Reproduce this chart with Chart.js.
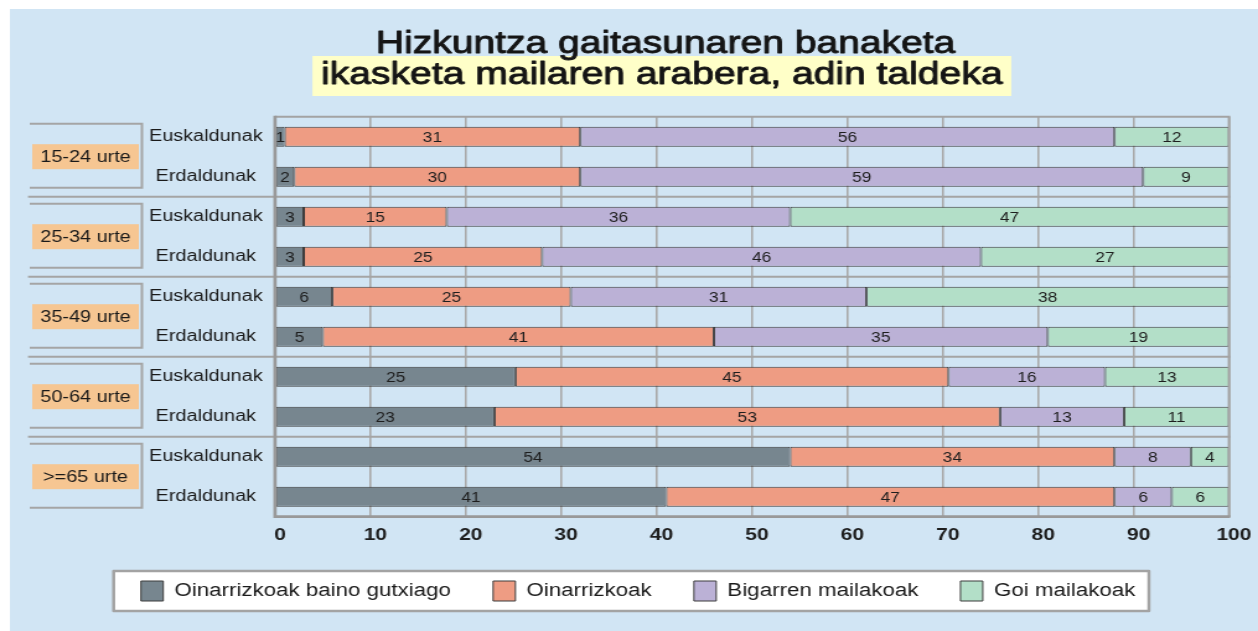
<!DOCTYPE html>
<html>
<head>
<meta charset="utf-8">
<script src="https://cdn.jsdelivr.net/npm/chart.js@4.4.0/dist/chart.umd.min.js"></script>
<style>
  html, body { margin: 0; padding: 0; background: #fff; }
  canvas { display: block; }
</style>
</head>
<body>
<!-- the original picture is stretched sideways, so the canvas is drawn narrower and scaled by CSS -->
<canvas id="chart" width="1015" height="631" style="width:1258px;height:631px"></canvas>
<script>
const titleLines = ['Hizkuntza gaitasunaren banaketa', 'ikasketa mailaren arabera, adin taldeka'];
const groups = ['15-24 urte', '25-34 urte', '35-49 urte', '50-64 urte', '>=65 urte'];
const categories = ['Euskaldunak', 'Erdaldunak', 'Euskaldunak', 'Erdaldunak', 'Euskaldunak',
                    'Erdaldunak', 'Euskaldunak', 'Erdaldunak', 'Euskaldunak', 'Erdaldunak'];
const seriesNames = ['Oinarrizkoak baino gutxiago', 'Oinarrizkoak', 'Bigarren mailakoak', 'Goi mailakoak'];

// percentages, one per row (top to bottom); labels show the rounded value
const belowBasic = [1, 2, 3, 3, 6, 5, 25.2, 23, 54, 41];
const basic      = [31, 30, 15, 25, 25, 41, 45.4, 53, 34, 47];
const secondary  = [56, 59, 36, 46, 31, 35, 16.4, 13, 8, 6];
const higher     = [12, 9, 47, 27, 38, 19, 13.4, 11, 4, 6];

const colors = ['#77868f', '#ee9c83', '#bbb1d6', '#b3dfc8'];

Chart.defaults.font.family = '"Liberation Sans", Arial, sans-serif';
Chart.defaults.color = '#1a1a1a';

// background, title and legend frame
const decor = {
  id: 'decor',
  beforeDraw(chart) {
    const { ctx, width, height } = chart;
    ctx.save();
    ctx.fillStyle = '#ffffff';
    ctx.fillRect(0, 0, width, height);
    ctx.fillStyle = '#d1e5f4';
    ctx.fillRect(8, 9, width - 8, height - 9);

    ctx.font = '31.5px "Liberation Sans", Arial, sans-serif';
    ctx.textAlign = 'center';
    ctx.textBaseline = 'alphabetic';
    const w2 = ctx.measureText(titleLines[1]).width;
    ctx.fillStyle = '#ffffc8';
    ctx.fillRect(534 - w2 / 2 - 7, 56, w2 + 14, 40);
    ctx.fillStyle = '#151515';
    ctx.strokeStyle = '#151515';
    ctx.lineWidth = 0.9;
    ctx.lineJoin = 'round';
    ctx.fillText(titleLines[0], 537, 53);
    ctx.strokeText(titleLines[0], 537, 53);
    ctx.fillText(titleLines[1], 534, 84);
    ctx.strokeText(titleLines[1], 534, 84);

    const boxes = chart.legend.legendHitBoxes;
    if (boxes && boxes.length) {
      const first = boxes[0], last = boxes[boxes.length - 1];
      const mid = first.top + first.height / 2;
      const l = first.left - 22, r = last.left + last.width + 11;
      ctx.fillStyle = '#ffffff';
      ctx.fillRect(l, mid - 20, r - l, 40);
      ctx.strokeStyle = '#a3a3a3';
      ctx.lineWidth = 2.5;
      ctx.strokeRect(l, mid - 20, r - l, 40);
    }
    ctx.restore();
  },
  beforeDatasetsDraw(chart) {
    const { ctx, chartArea: a, scales: { y } } = chart;
    const step = y.getPixelForValue(1) - y.getPixelForValue(0);
    ctx.save();
    ctx.strokeStyle = '#a5a5a5';
    ctx.lineWidth = 2;
    groups.forEach((g, i) => {
      const top = y.getPixelForValue(2 * i) - step / 2;
      const bottom = top + 2 * step;
      const mid = top + step;
      if (i > 0) {
        ctx.beginPath();
        ctx.moveTo(22.6, top);
        ctx.lineTo(a.right + 1, top);
        ctx.stroke();
      }
      ctx.beginPath();
      ctx.moveTo(24, top + 7);
      ctx.lineTo(114.5, top + 7);
      ctx.lineTo(114.5, bottom - 9);
      ctx.lineTo(24, bottom - 9);
      ctx.stroke();
      ctx.fillStyle = '#f6c692';
      ctx.fillRect(26, mid - 12.5, 86, 25);
      ctx.fillStyle = '#1a1a1a';
      ctx.font = '16px "Liberation Sans", Arial, sans-serif';
      ctx.textAlign = 'center';
      ctx.textBaseline = 'middle';
      ctx.fillText(g, 69, mid + 1);
    });
    ctx.restore();
  },
  afterDatasetsDraw(chart) {
    const { ctx, chartArea: a } = chart;
    ctx.save();
    // value labels
    ctx.font = '14px "Liberation Sans", Arial, sans-serif';
    ctx.fillStyle = '#1e1e1e';
    ctx.textAlign = 'center';
    ctx.textBaseline = 'middle';
    chart.data.datasets.forEach((ds, di) => {
      chart.getDatasetMeta(di).data.forEach((bar, i) => {
        const { x, base, y } = bar.getProps(['x', 'base', 'y'], true);
        const l = Math.max(Math.min(x, base), a.left);
        const r = Math.min(Math.max(x, base), a.right);
        ctx.fillText(String(Math.round(ds.data[i])), (l + r) / 2, y + 1);
      });
    });
    // plot frame
    ctx.strokeStyle = '#a3a3a3';
    ctx.lineWidth = 2;
    ctx.beginPath();
    ctx.moveTo(a.left, a.top);
    ctx.lineTo(a.right, a.top);
    ctx.lineTo(a.right, a.bottom);
    ctx.stroke();
    ctx.strokeStyle = '#999999';
    ctx.lineWidth = 2.7;
    ctx.beginPath();
    ctx.moveTo(a.left, a.top - 1);
    ctx.lineTo(a.left, a.bottom);
    ctx.lineTo(a.right + 1, a.bottom);
    ctx.stroke();
    ctx.restore();
  }
};

const seriesData = [belowBasic, basic, secondary, higher];

new Chart(document.getElementById('chart'), {
  type: 'bar',
  data: {
    labels: categories,
    datasets: seriesNames.map((name, i) => ({
      label: name,
      data: seriesData[i],
      backgroundColor: colors[i],
      borderColor: '#3c3c3c',
      borderWidth: 1,
      borderSkipped: false,
      categoryPercentage: 1,
      barPercentage: 0.5,
      clip: 0
    }))
  },
  options: {
    indexAxis: 'y',
    responsive: false,
    animation: false,
    devicePixelRatio: 1,
    layout: { padding: { top: 116.7, bottom: 20, left: 38.1, right: 23.4 } },
    scales: {
      x: {
        stacked: true,
        min: 0,
        max: 100,
        ticks: { stepSize: 10, padding: 8, labelOffset: 4, color: '#1e1e1e',
                 font: { size: 17, weight: 'bold' } },
        grid: { color: '#a9a9a9', lineWidth: 1.6, drawTicks: false },
        border: { display: false },
        afterFit: s => { s.height = 30.3; }
      },
      y: {
        stacked: true,
        ticks: { padding: 10, crossAlign: 'center', color: '#1a1a1a', font: { size: 16 } },
        grid: { display: false, drawTicks: false },
        border: { display: false },
        afterFit: s => { s.width = 183.8; }
      }
    },
    plugins: {
      legend: {
        position: 'bottom',
        labels: { boxWidth: 18, boxHeight: 20, padding: 34, color: '#1a1a1a',
                  font: { size: 18 } }
      },
      tooltip: { enabled: false }
    }
  },
  plugins: [decor]
});
</script>
</body>
</html>
